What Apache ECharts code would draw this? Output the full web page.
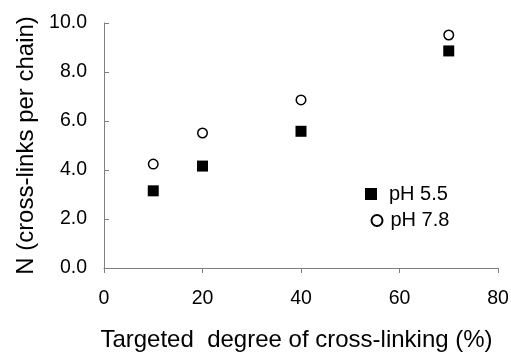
<!DOCTYPE html>
<html><head><meta charset="utf-8">
<script src="https://cdn.jsdelivr.net/npm/echarts@6/dist/echarts.min.js"></script>
<style>html,body{margin:0;padding:0;background:#fff}#c{width:511px;height:352px}</style>
</head><body><div id="c"></div>
<script>
const xValues = [10, 20, 40, 70];
const pH55 = [3.15, 4.16, 5.58, 8.86];
const pH78 = [4.24, 5.51, 6.86, 9.51];
const seriesNames = ['pH 5.5', 'pH 7.8'];
const xTitle = 'Targeted  degree of cross-linking (%)';
const yTitle = 'N (cross-links per chain)';

const font = 'Liberation Sans, Arial, sans-serif';
const chart = echarts.init(document.getElementById('c'));
chart.setOption({
  animation: false,
  backgroundColor: '#fff',
  grid: { left: 104, top: 23, right: 13, bottom: 84, containLabel: false, outerBoundsMode: 'none' },
  legend: [
    {
      padding: 0, left: 365, top: 184,
      itemWidth: 12, itemHeight: 12,
      textStyle: { fontFamily: font, fontSize: 20, color: '#000', padding: [0, 0, 0, 7] },
      data: [{ name: seriesNames[0], icon: 'rect' }]
    },
    {
      padding: 0, left: 370.5, top: 210.5,
      itemWidth: 11, itemHeight: 11,
      textStyle: { fontFamily: font, fontSize: 20, color: '#000', padding: [0, 0, 0, 3] },
      data: [{ name: seriesNames[1], icon: 'circle' }]
    }
  ],
  xAxis: {
    type: 'value', min: 0, max: 80, interval: 20,
    name: xTitle, nameLocation: 'middle', nameGap: 60,
    nameTextStyle: { fontFamily: font, fontSize: 24, color: '#000', padding: [0, 9, 0, 0] },
    axisLine: { lineStyle: { color: '#808080', width: 1 } },
    axisTick: { show: true, inside: false, length: 5, lineStyle: { color: '#808080' } },
    axisLabel: { fontFamily: font, fontSize: 19.5, color: '#000', margin: 21 },
    splitLine: { show: false }
  },
  yAxis: {
    type: 'value', min: 0, max: 10, interval: 2,
    name: yTitle, nameLocation: 'middle', nameGap: 64,
    nameTextStyle: { fontFamily: font, fontSize: 24, color: '#000' },
    axisLine: { show: true, lineStyle: { color: '#808080', width: 1 } },
    axisTick: { show: true, inside: true, length: 5, lineStyle: { color: '#808080' } },
    axisLabel: { fontFamily: font, fontSize: 19.5, color: '#000', margin: 17,
      formatter: v => v.toFixed(1) },
    splitLine: { show: false }
  },
  series: [
    {
      name: seriesNames[0], type: 'scatter', symbol: 'rect', symbolSize: 11,
      itemStyle: { color: '#000', opacity: 1 },
      data: xValues.map((x, i) => [x, pH55[i]])
    },
    {
      name: seriesNames[1], type: 'scatter', symbol: 'circle', symbolSize: 9.5,
      itemStyle: { color: '#fff', borderColor: '#000', borderWidth: 1.5, opacity: 1 },
      data: xValues.map((x, i) => [x, pH78[i]])
    }
  ]
});
</script></body></html>
